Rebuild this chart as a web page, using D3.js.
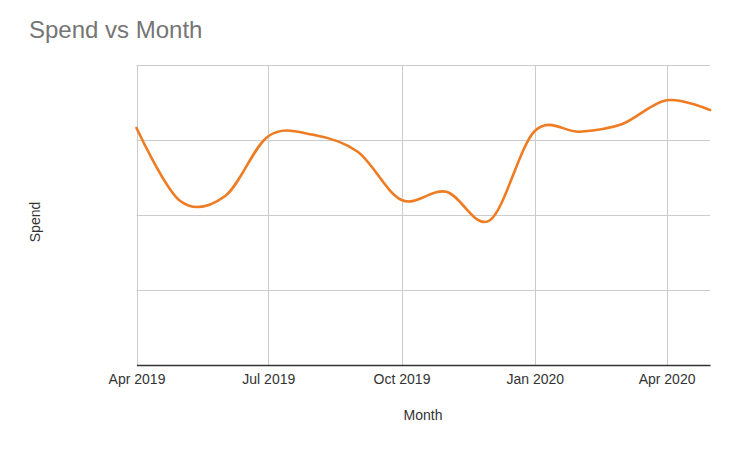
<!DOCTYPE html>
<html>
<head>
<meta charset="utf-8">
<script src="https://cdn.jsdelivr.net/npm/d3@7"></script>
<style>
  html, body { margin: 0; padding: 0; background: #fff; }
  svg { display: block; font-family: "Liberation Sans", Arial, sans-serif; }
</style>
</head>
<body>
<svg id="chart" width="748" height="454"></svg>
<script>
// ---- data ----
const months = ["2019-04-01","2019-05-01","2019-06-01","2019-07-01","2019-08-01","2019-09-01",
                "2019-10-01","2019-11-01","2019-12-01","2020-01-01","2020-02-01","2020-03-01",
                "2020-04-01","2020-05-01"];
const spend = [316, 219, 225, 305, 307, 284, 220, 231, 193, 312, 311, 321, 353, 340];
const xTickDates = ["2019-04-01","2019-07-01","2019-10-01","2020-01-01","2020-04-01"];
const yTicks = [0, 100, 200, 300, 400];

const title = "Spend vs Month";
const xTitle = "Month";
const yTitle = "Spend";

// ---- layout ----
const svg = d3.select("#chart");
const pLeft = 136.5, pRight = 710, pTop = 65, pBottom = 365;
const parse = d3.utcParse("%Y-%m-%d");
const fmt = d3.utcFormat("%b %Y");

const x = d3.scaleUtc()
  .domain([parse(months[0]), parse(months[months.length - 1])])
  .range([pLeft, pRight]);
const y = d3.scaleLinear().domain([0, 400]).range([pBottom, pTop]);

// title
svg.append("text")
  .attr("x", 29).attr("y", 38)
  .attr("fill", "#757575")
  .attr("font-size", 24)
  .text(title);

// horizontal gridlines
svg.append("g")
  .selectAll("line")
  .data(yTicks)
  .join("line")
  .attr("x1", pLeft).attr("x2", pRight)
  .attr("y1", d => Math.round(y(d)) + 0.5).attr("y2", d => Math.round(y(d)) + 0.5)
  .attr("stroke", "#cccccc").attr("stroke-width", 1);

// vertical gridlines
const xt = xTickDates.map(parse);
svg.append("g")
  .selectAll("line")
  .data(xt)
  .join("line")
  .attr("x1", d => Math.round(x(d)) + 0.5).attr("x2", d => Math.round(x(d)) + 0.5)
  .attr("y1", pTop).attr("y2", pBottom)
  .attr("stroke", "#cccccc").attr("stroke-width", 1);

// x axis baseline + tick labels
const xAxis = d3.axisBottom(x).tickValues(xt).tickFormat(fmt).tickSize(0).tickPadding(9);
const gx = svg.append("g").attr("transform", `translate(0,${pBottom})`).call(xAxis);
gx.select(".domain").attr("stroke", "#333333").attr("stroke-width", 1.3);
gx.selectAll("text").attr("fill", "#333333").attr("font-size", 14)
  .attr("font-family", "'Liberation Sans', Arial, sans-serif");

// axis titles
svg.append("text")
  .attr("x", 423).attr("y", 420)
  .attr("text-anchor", "middle")
  .attr("fill", "#333333").attr("font-size", 14)
  .text(xTitle);

svg.append("text")
  .attr("transform", "translate(40,222) rotate(-90)")
  .attr("text-anchor", "middle")
  .attr("fill", "#333333").attr("font-size", 14)
  .text(yTitle);

// line
const data = months.map((m, i) => ({ date: parse(m), v: spend[i] }));
const line = d3.line()
  .x(d => x(d.date))
  .y(d => y(d.v))
  .curve(d3.curveCardinal.tension(0));

svg.append("path")
  .datum(data)
  .attr("d", line)
  .attr("fill", "none")
  .attr("stroke", "#ef7b22")
  .attr("stroke-width", 2.6)
  .attr("stroke-linejoin", "round")
  .attr("stroke-linecap", "round");
</script>
</body>
</html>
